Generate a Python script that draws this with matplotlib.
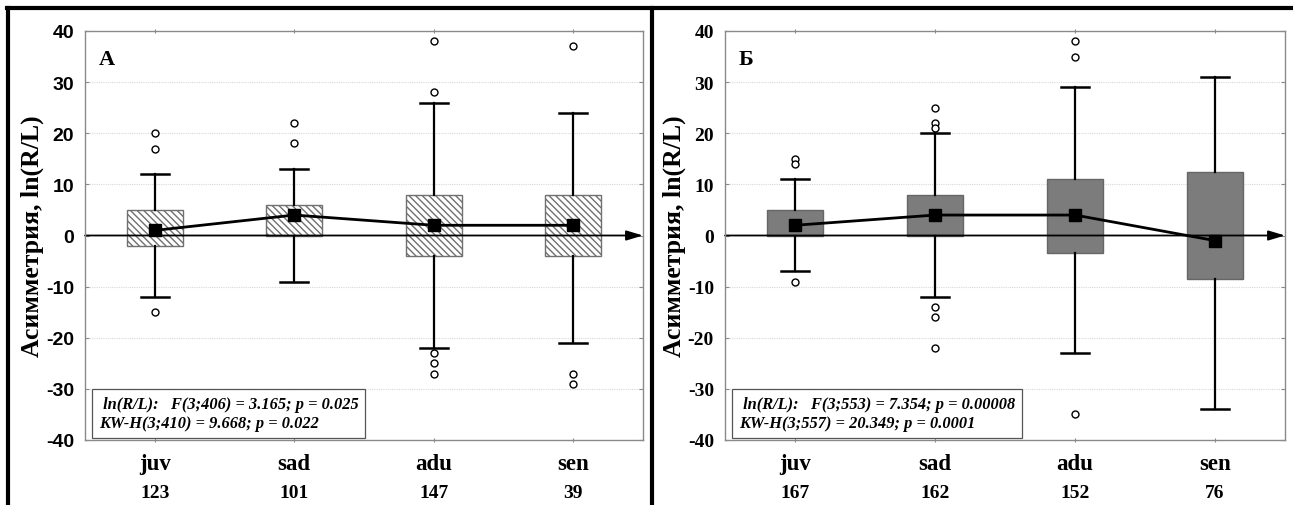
import numpy as np
import matplotlib
matplotlib.use("Agg")
import matplotlib.pyplot as plt
from matplotlib.lines import Line2D
from matplotlib.patches import Rectangle
from matplotlib.transforms import blended_transform_factory

plt.rcParams["axes.unicode_minus"] = False

# ---- data ----
groups = ["juv", "sad", "adu", "sen"]

# panel A
counts_a = [123, 101, 147, 39]
median_a = [1, 4, 2, 2]
q1_a = [-2, 0, -4, -4]
q3_a = [5, 6, 8, 8]
wlo_a = [-12, -9, -22, -21]
whi_a = [12, 13, 26, 24]
out_a = [[20, 17, -15], [22, 18], [38, 28, -23, -25, -27], [37, -27, -29]]
stats_a = [" ln(R/L):   F(3;406) = 3.165; p = 0.025",
           "KW-H(3;410) = 9.668; p = 0.022"]

# panel Б
counts_b = [167, 162, 152, 76]
median_b = [2, 4, 4, -1]
q1_b = [0, 0, -3.5, -8.5]
q3_b = [5, 8, 11, 12.5]
wlo_b = [-7, -12, -23, -34]
whi_b = [11, 20, 29, 31]
out_b = [[15, 14, -9], [25, 22, 21, -14, -16, -22], [38, 35, -35], []]
stats_b = [" ln(R/L):   F(3;553) = 7.354; p = 0.00008",
           "KW-H(3;557) = 20.349; p = 0.0001"]

SERIF = "Liberation Serif"
SANS = "Liberation Sans"
W, H = 1293, 506


def draw_panel(ax, label, counts, med, q1, q3, wlo, whi, outl, stats,
               box_style, tick_font):
    x = np.arange(len(groups))
    ax.set_xlim(-0.5, 3.5)
    ax.set_ylim(-40, 40)

    # grid
    for y in range(-30, 40, 10):
        if y != 0:
            ax.axhline(y, color="#d8d8d8", lw=0.8, ls=(0, (1, 1)), zorder=0)

    # zero line with arrow
    ax.annotate("", xy=(1.0, 0), xytext=(0.0, 0),
                xycoords=blended_transform_factory(ax.transAxes, ax.transData),
                arrowprops=dict(arrowstyle="-|>,head_length=1.0,head_width=0.3",
                                color="black", lw=1.3, shrinkA=0, shrinkB=0),
                zorder=2)

    bw = 0.4
    cw = 0.2
    for i in x:
        if box_style == "hatch":
            r = Rectangle((i - bw / 2, q1[i]), bw, q3[i] - q1[i],
                          facecolor="white", edgecolor="#707070",
                          hatch="\\\\\\\\\\", lw=1.0, zorder=1)
        else:
            r = Rectangle((i - bw / 2, q1[i]), bw, q3[i] - q1[i],
                          facecolor="#7c7c7c", edgecolor="#666666",
                          lw=1.0, zorder=1)
        ax.add_patch(r)
        # whiskers
        ax.plot([i, i], [q3[i], whi[i]], color="black", lw=1.6, zorder=3)
        ax.plot([i, i], [q1[i], wlo[i]], color="black", lw=1.6, zorder=3)
        ax.plot([i - cw / 2, i + cw / 2], [whi[i], whi[i]], color="black", lw=1.8, zorder=3)
        ax.plot([i - cw / 2, i + cw / 2], [wlo[i], wlo[i]], color="black", lw=1.8, zorder=3)
        if outl[i]:
            ax.plot([i] * len(outl[i]), outl[i], ls="none", marker="o",
                    mfc="white", mec="black", ms=5, mew=1.0, zorder=4)

    ax.plot(x, med, color="black", lw=2.0, marker="s", ms=8, zorder=5)

    # axes look
    for s in ax.spines.values():
        s.set_color("#8a8a8a")
        s.set_linewidth(1.0)
    ax.set_yticks(range(-40, 41, 10))
    ax.set_xticks(x)
    ax.set_xticklabels(groups, fontfamily=SERIF, fontweight="bold", fontsize=16.5)
    ax.tick_params(axis="x", length=3, color="#8a8a8a", pad=8, top=True, direction="inout")
    ax.tick_params(axis="y", length=3, color="#8a8a8a", right=True, direction="in", pad=8)
    for t in ax.get_yticklabels():
        t.set_fontfamily(tick_font)
        t.set_fontweight("bold")
        t.set_fontsize(14)

    trans = blended_transform_factory(ax.transData, ax.transAxes)
    for i, n in enumerate(counts):
        ax.text(i, -0.128, str(n), transform=trans, ha="center", va="center",
                fontfamily=SERIF, fontweight="bold", fontsize=14)

    ax.set_ylabel("Асимметрия, ln(R/L)", fontfamily=SERIF, fontweight="bold",
                  fontsize=18.5, labelpad=1)

    ax.text(0.025, 0.955, label, transform=ax.transAxes, ha="left", va="top",
            fontfamily=SERIF, fontweight="bold", fontsize=16)

    ax.text(0.025, 0.022, "\n".join(stats), transform=ax.transAxes, ha="left", va="bottom",
            fontfamily=SERIF, fontstyle="italic", fontweight="bold", fontsize=11.8,
            linespacing=1.25,
            bbox=dict(boxstyle="square,pad=0.4", fc="white", ec="#555555", lw=0.9),
            zorder=6)


fig = plt.figure(figsize=(W / 100, H / 100), dpi=100)
ax_a = fig.add_axes([85 / W, (H - 441) / H, 558 / W, 409 / H])
ax_b = fig.add_axes([725 / W, (H - 441) / H, 560 / W, 409 / H])

draw_panel(ax_a, "A", counts_a, median_a, q1_a, q3_a, wlo_a, whi_a, out_a, stats_a,
           "hatch", SANS)
draw_panel(ax_b, "Б", counts_b, median_b, q1_b, q3_b, wlo_b, whi_b, out_b, stats_b,
           "solid", SERIF)

# outer frame lines
fig.add_artist(Line2D([7 / W, 1], [1 - 9 / H, 1 - 9 / H], color="black", lw=3))
fig.add_artist(Line2D([8 / W, 8 / W], [0, 1 - 9 / H], color="black", lw=3))
fig.add_artist(Line2D([652 / W, 652 / W], [0, 1 - 9 / H], color="black", lw=3))

fig.savefig("out.png", dpi=100)
